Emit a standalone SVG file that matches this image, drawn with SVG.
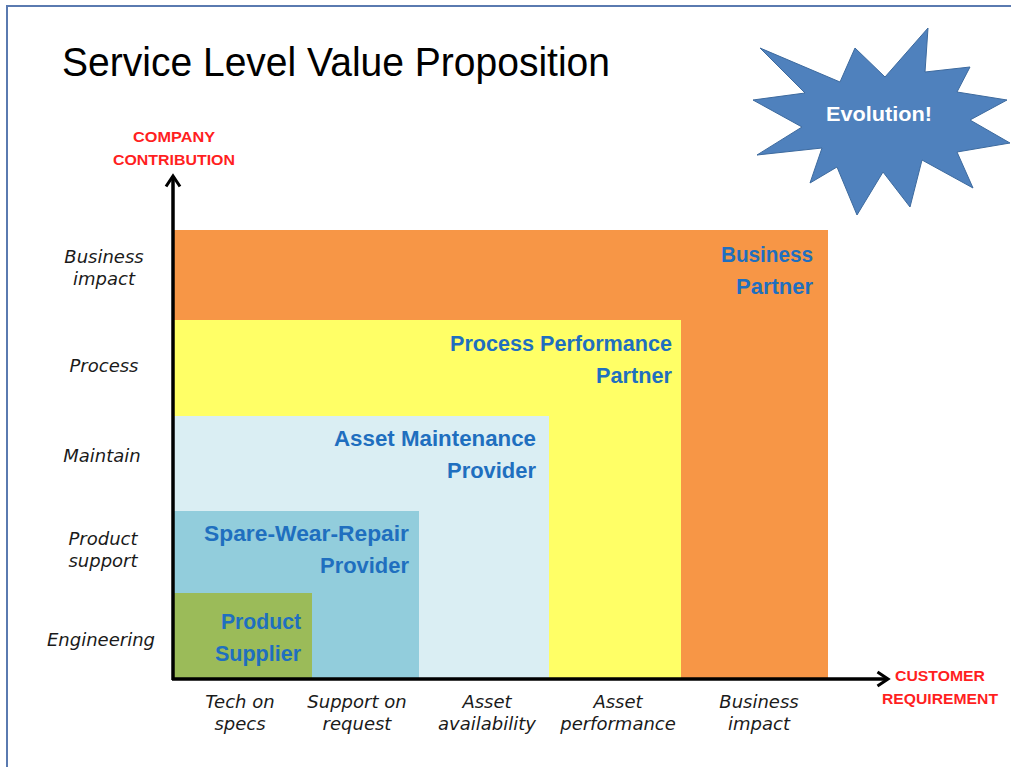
<svg xmlns="http://www.w3.org/2000/svg" width="1011" height="767" viewBox="0 0 1011 767">
<defs>
<style>
.title{font-family:"Liberation Sans",Arial,sans-serif;font-size:40px;fill:#000}
.blk{font-family:"Liberation Sans",Arial,sans-serif;font-weight:bold;font-size:22px;fill:#1F6FBF;text-anchor:end}
.ax{font-family:"DejaVu Sans",sans-serif;font-style:italic;font-size:18px;fill:#1a1a1a;text-anchor:middle}
.red{font-family:"Liberation Sans",Arial,sans-serif;font-weight:bold;font-size:15px;fill:#FF1F1F;text-anchor:middle}
.axis{stroke:#000;stroke-width:3.5;fill:none}
</style>
<marker id="arr" viewBox="0 0 20 20" refX="16" refY="10" markerWidth="5" markerHeight="5" orient="auto" markerUnits="strokeWidth">
<path d="M4,2 L16,10 L4,18" fill="none" stroke="#000" stroke-width="3.5"/>
</marker>
</defs>
<rect x="0" y="0" width="1011" height="767" fill="#fff"/>
<rect x="7" y="6" width="1100" height="900" fill="none" stroke="#5a7ab0" stroke-width="2"/>
<g id="title"><text class="title" x="62" y="76" textLength="548" lengthAdjust="spacingAndGlyphs">Service Level Value Proposition</text></g>
<g id="star">
<polygon points="757,155 822,148 810,183 837,167 857,215 883,172 910,207 922,160 973,188 957,152 1010,143 970,120 1007,100 957,92 970,67 925,72 928,28 885,77 855,48 840,82 760,48 805,93 753,100 802,127" fill="#4F81BD" stroke="#3d6a9e" stroke-width="1"/>
<text x="879" y="121" font-family="'Liberation Sans',Arial,sans-serif" font-weight="bold" font-size="20" fill="#fff" text-anchor="middle" textLength="106" lengthAdjust="spacingAndGlyphs">Evolution!</text>
</g>
<g id="business-partner">
<rect x="174" y="230" width="654" height="448" fill="#F79646"/>
<text class="blk"><tspan x="813" y="262" textLength="92" lengthAdjust="spacingAndGlyphs">Business</tspan><tspan x="813" y="294" textLength="77" lengthAdjust="spacingAndGlyphs">Partner</tspan></text>
</g>
<g id="process-performance-partner">
<rect x="174" y="320" width="507" height="358" fill="#FFFF66"/>
<text class="blk"><tspan x="672" y="351" textLength="222" lengthAdjust="spacingAndGlyphs">Process Performance</tspan><tspan x="672" y="383" textLength="76" lengthAdjust="spacingAndGlyphs">Partner</tspan></text>
</g>
<g id="asset-maintenance-provider">
<rect x="174" y="416" width="375" height="262" fill="#DAEEF3"/>
<text class="blk"><tspan x="536" y="446" textLength="202" lengthAdjust="spacingAndGlyphs">Asset Maintenance</tspan><tspan x="536" y="478" textLength="89" lengthAdjust="spacingAndGlyphs">Provider</tspan></text>
</g>
<g id="spare-wear-repair-provider">
<rect x="174" y="511" width="245" height="167" fill="#92CDDC"/>
<text class="blk"><tspan x="409" y="541" textLength="205" lengthAdjust="spacingAndGlyphs">Spare-Wear-Repair</tspan><tspan x="409" y="573" textLength="89" lengthAdjust="spacingAndGlyphs">Provider</tspan></text>
</g>
<g id="product-supplier">
<rect x="174" y="593" width="138" height="85" fill="#9BBB59"/>
<text class="blk"><tspan x="301" y="629" textLength="80" lengthAdjust="spacingAndGlyphs">Product</tspan><tspan x="301" y="661" textLength="86" lengthAdjust="spacingAndGlyphs">Supplier</tspan></text>
</g>
<g id="connectors">
<line class="axis" x1="173" y1="680" x2="173" y2="176" marker-end="url(#arr)"/>
<line class="axis" x1="172" y1="679" x2="888" y2="679" marker-end="url(#arr)"/>
</g>
<g id="y-axis-title"><text class="red"><tspan x="174" y="142" textLength="82" lengthAdjust="spacingAndGlyphs">COMPANY</tspan><tspan x="174" y="165" textLength="122" lengthAdjust="spacingAndGlyphs">CONTRIBUTION</tspan></text></g>
<g id="x-axis-title"><text class="red"><tspan x="940" y="681" textLength="90" lengthAdjust="spacingAndGlyphs">CUSTOMER</tspan><tspan x="940" y="704" textLength="116" lengthAdjust="spacingAndGlyphs">REQUIREMENT</tspan></text></g>
<g id="y-labels">
<text class="ax"><tspan x="104" y="263">Business</tspan><tspan x="104" y="285">impact</tspan></text>
<text class="ax" x="104" y="372">Process</text>
<text class="ax" x="102" y="462">Maintain</text>
<text class="ax"><tspan x="103" y="545">Product</tspan><tspan x="103" y="567">support</tspan></text>
<text class="ax" x="101" y="646">Engineering</text>
</g>
<g id="x-labels">
<text class="ax"><tspan x="240" y="708">Tech on</tspan><tspan x="240" y="730">specs</tspan></text>
<text class="ax"><tspan x="357" y="708">Support on</tspan><tspan x="357" y="730">request</tspan></text>
<text class="ax"><tspan x="487" y="708">Asset</tspan><tspan x="487" y="730">availability</tspan></text>
<text class="ax"><tspan x="618" y="708">Asset</tspan><tspan x="618" y="730">performance</tspan></text>
<text class="ax"><tspan x="759" y="708">Business</tspan><tspan x="759" y="730">impact</tspan></text>
</g>
</svg>
